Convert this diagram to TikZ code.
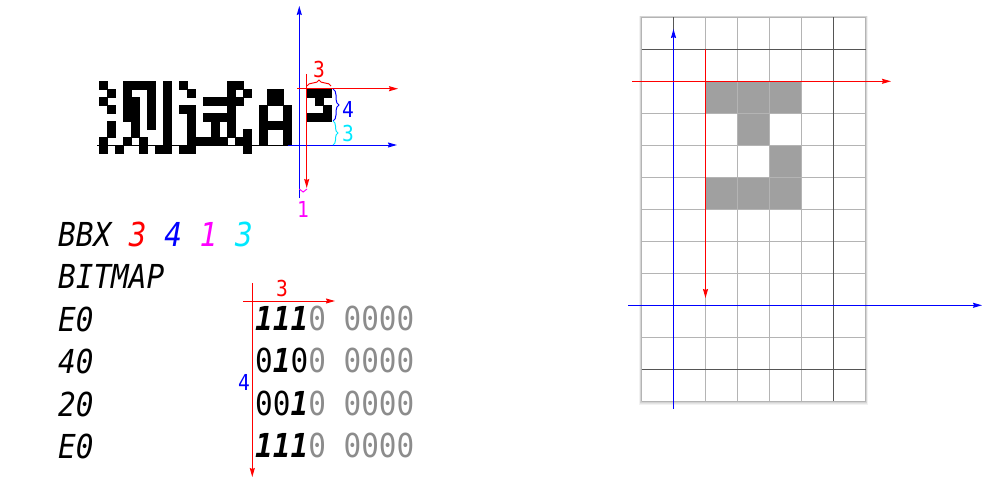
\documentclass[tikz,border=0pt]{standalone}
\usepackage{fontspec}
\usetikzlibrary{arrows.meta,decorations.pathreplacing}
\newfontfamily\dmono[FakeStretch=0.89,
  BoldFont={DejaVu Sans Mono Bold},
  ItalicFont={DejaVu Sans Mono Oblique},
  BoldItalicFont={DejaVu Sans Mono Bold Oblique}]{DejaVu Sans Mono}
\definecolor{bitgray}{HTML}{8C8C8C}
\definecolor{gridlight}{HTML}{B4B4B4}
\definecolor{griddark}{HTML}{555555}
\definecolor{cellfill}{HTML}{A0A0A0}
\definecolor{mycyan}{HTML}{00E8FF}
\definecolor{myred}{HTML}{FF0000}
\definecolor{myblue}{HTML}{0000FF}
\definecolor{mymag}{HTML}{FF00FF}
\begin{document}
\begin{tikzpicture}[x=1pt,y=-1pt,
  axis/.style={line width=1pt,-{Stealth[length=9pt,width=5pt,inset=1pt]}},
  raxis/.style={axis,draw=myred},
  baxis/.style={axis,draw=myblue},
  bigtext/.style={inner sep=0pt,anchor=base west,font=\dmono\fontsize{33}{33}\selectfont\itshape},
  bittext/.style={inner sep=0pt,anchor=base west,font=\dmono\fontsize{33}{33}\selectfont},
  lbl/.style={inner sep=0pt,font=\dmono\fontsize{22}{22}\selectfont},
  bracestyle/.style={line width=1pt,decorate,decoration={brace,amplitude=#1}},
  pixel/.style={fill=black,draw=black,line width=0.2pt},
  cellline/.style={draw=gridlight,line width=1pt},
  darkline/.style={draw=griddark,line width=1pt},
  gridcell/.style={fill=cellfill,draw=gridlight,line width=1pt}
]
\useasboundingbox (0,0) rectangle (1000,500);

% ---------- pixel glyphs (top left) ----------
\foreach \r/\cl in {0/{0,3,4,5,6,8,10,16,17},
                    1/{1,3,6,8,11,16,18,21,22,26,27,28},
                    2/{0,3,4,6,8,13,14,15,16,17,21,22,27},
                    3/{1,3,4,6,8,10,11,16,20,23,28},
                    4/{3,4,6,8,11,13,14,15,16,20,23,26,27,28},
                    5/{1,4,6,8,11,14,16,20,21,22,23},
                    6/{1,4,8,11,14,16,18,20,23},
                    7/{0,3,5,8,11,12,13,14,15,17,18,20,23},
                    8/{0,2,5,7,8,10,11,18}}{
  \foreach \c in \cl {
    \path[pixel] ({98.7+8*\c},{81+8*\r}) rectangle ++(8,8);
  }
}

% axes of the top diagram
\coordinate (blL) at (97,145);
\coordinate (blM) at (288,145);
\coordinate (blR) at (397,145);
\coordinate (bvB) at (299.3,198);
\coordinate (bvT) at (299.3,6);
\coordinate (rhL) at (297,88.7);
\coordinate (rhR) at (398,88.7);
\coordinate (rvT) at (306.7,74);
\coordinate (rvB) at (306.7,188);
\draw[line width=1pt,black] (blL) -- (blM);
\draw[baxis] (blM) -- (blR);
\draw[baxis] (bvB) -- (bvT);
\draw[raxis] (rhL) -- (rhR);
\draw[raxis] (rvT) -- (rvB);

% braces of the top diagram
\coordinate (brA) at (307,86);
\coordinate (brB) at (331,86);
\coordinate (bbA) at (333,89);
\coordinate (bbB) at (333,121);
\coordinate (bcA) at (333,121);
\coordinate (bcB) at (333,145);
\coordinate (bmA) at (307,189);
\coordinate (bmB) at (299.3,189);
\draw[bracestyle=6pt,myred] (brA) -- (brB);
\draw[bracestyle=6pt,myblue] (bbA) -- (bbB);
\draw[bracestyle=5pt,mycyan] (bcA) -- (bcB);
\draw[bracestyle=3pt,mymag] (bmA) -- (bmB);
\node[lbl,text=myred] (lw) at (319,69) {3};
\node[lbl,text=myblue] (lh) at (348,109) {4};
\node[lbl,text=mycyan] (lyo) at (348,133) {3};
\node[lbl,text=mymag] (lxo) at (303,209) {1};

% ---------- BDF text ----------
\node[bigtext] (bbx) at (58,246) {BBX \textcolor{myred}{3} \textcolor{myblue}{4} \textcolor{mymag}{1} \textcolor{mycyan}{3}};
\node[bigtext] (bitmap) at (58,288.5) {BITMAP};
\node[bigtext] (h1) at (58,331) {E0};
\node[bigtext] (h2) at (58,373.5) {40};
\node[bigtext] (h3) at (58,416) {20};
\node[bigtext] (h4) at (58,458.5) {E0};

\node[bittext] (b1) at (255,330) {\textbf{\textit{111}}\textcolor{bitgray}{0 0000}};
\node[bittext] (b2) at (255,372.5) {0\textbf{\textit{1}}0\textcolor{bitgray}{0 0000}};
\node[bittext] (b3) at (255,415) {00\textbf{\textit{1}}\textcolor{bitgray}{0 0000}};
\node[bittext] (b4) at (255,457.5) {\textbf{\textit{111}}\textcolor{bitgray}{0 0000}};

\coordinate (mvT) at (252.3,283);
\coordinate (mvB) at (252.3,477);
\coordinate (mhL) at (243,301);
\coordinate (mhR) at (335,301);
\draw[raxis] (mvT) -- (mvB);
\draw[raxis] (mhL) -- (mhR);
\node[lbl,text=myred] (mw) at (282,288) {3};
\node[lbl,text=myblue] (mh) at (244,382) {4};

% ---------- right grid ----------
\foreach \i/\op in {4/0.05,3/0.06,2/0.07,1/0.08}{
  \fill[black,opacity=\op] ({641.5-\i*0.6},{17.3-\i*0.4}) rectangle ({865.5+\i*0.6},{401.3+\i*0.9});
}
\fill[white] (641.5,17.3) rectangle (865.5,401.3);
\foreach \k in {0,...,7}{
  \draw[cellline] ({641.5+32*\k},17.3) -- ({641.5+32*\k},401.3);
}
\foreach \k in {0,...,12}{
  \draw[cellline] (641.5,{17.3+32*\k}) -- (865.5,{17.3+32*\k});
}
\foreach \c/\r in {2/2,3/2,4/2,3/3,4/4,2/5,3/5,4/5}{
  \path[gridcell] ({641.5+32*\c},{17.3+32*\r}) rectangle ++(32,32);
}
\foreach \k in {1,6}{
  \draw[darkline] ({641.5+32*\k},17.3) -- ({641.5+32*\k},401.3);
}
\foreach \k in {1,11}{
  \draw[darkline] (641.5,{17.3+32*\k}) -- (865.5,{17.3+32*\k});
}

\coordinate (gvB) at (673.5,409);
\coordinate (gvT) at (673.5,29);
\coordinate (ghL) at (628,305.3);
\coordinate (ghR) at (982,305.3);
\coordinate (grL) at (632,81.3);
\coordinate (grR) at (891,81.3);
\coordinate (grT) at (705.5,49.3);
\coordinate (grB) at (705.5,298);
\draw[baxis] (gvB) -- (gvT);
\draw[baxis] (ghL) -- (ghR);
\draw[raxis] (grL) -- (grR);
\draw[raxis] (grT) -- (grB);
\end{tikzpicture}
\end{document}
